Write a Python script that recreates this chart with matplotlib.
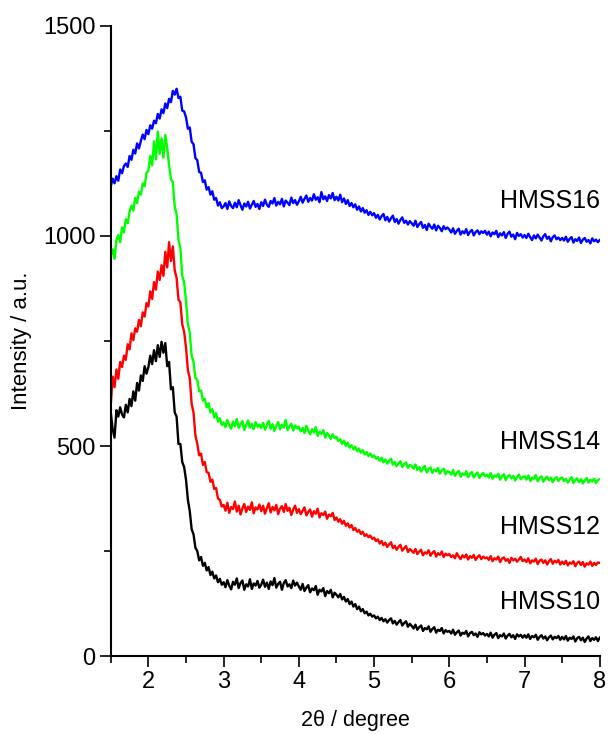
import numpy as np
import matplotlib
matplotlib.use("Agg")
import matplotlib.pyplot as plt
from matplotlib.ticker import MultipleLocator

plt.rcParams['font.family'] = ['Liberation Sans', 'DejaVu Sans']

# 2theta scan, 1.5 - 8 degree, step 0.025
two_theta = np.round(np.arange(261) * 0.025 + 1.5, 3)

hmss16 = [1118, 1136, 1125, 1142, 1131, 1158, 1149, 1166, 1172, 1164, 1190, 1181, 1205, 1196, 1220, 1208, 1226, 1241, 1230, 1252,
          1242, 1263, 1255, 1274, 1268, 1290, 1279, 1301, 1292, 1315, 1304, 1326, 1318, 1345, 1336, 1350, 1328, 1331, 1298, 1296,
          1282, 1255, 1258, 1224, 1218, 1185, 1180, 1152, 1150, 1128, 1132, 1110, 1116, 1098, 1106, 1086, 1090, 1072, 1080, 1066,
          1070, 1078, 1064, 1082, 1071, 1066, 1079, 1068, 1085, 1073, 1062, 1077, 1070, 1081, 1065, 1074, 1083, 1069, 1076, 1064,
          1080, 1071, 1086, 1074, 1069, 1083, 1077, 1090, 1072, 1081, 1075, 1088, 1070, 1084, 1079, 1073, 1091, 1078, 1085, 1074,
          1082, 1093, 1079, 1088, 1096, 1081, 1090, 1084, 1099, 1086, 1092, 1080, 1104, 1087, 1094, 1083, 1097, 1089, 1102, 1085,
          1093, 1084, 1098, 1080, 1089, 1076, 1085, 1071, 1078, 1068, 1075, 1062, 1070, 1058, 1066, 1055, 1061, 1050, 1057, 1049,
          1054, 1043, 1050, 1039, 1047, 1052, 1037, 1045, 1034, 1042, 1048, 1033, 1040, 1029, 1038, 1044, 1031, 1036, 1027, 1035,
          1030, 1024, 1036, 1021, 1028, 1033, 1019, 1026, 1014, 1029, 1022, 1017, 1027, 1013, 1024, 1019, 1011, 1023, 1016, 1020,
          1015, 1008, 1018, 1005, 1012, 1017, 1003, 1011, 1006, 1016, 1002, 1010, 1014, 1001, 1009, 1013, 1004, 1011, 1007, 1012,
          1003, 1010, 999, 1008, 1004, 1012, 997, 1006, 1001, 1009, 995, 1005, 1010, 998, 1003, 992, 1007, 1000, 1004, 996,
          1002, 995, 1005, 997, 990, 1001, 994, 1003, 996, 989, 999, 1004, 993, 998, 987, 997, 1001, 992, 996, 990,
          995, 989, 998, 986, 993, 997, 984, 992, 988, 996, 983, 991, 995, 986, 990, 982, 994, 987, 991, 985,
          990]

hmss14 = [952, 968, 945, 990, 1002, 985, 1020, 1008, 1040, 1030, 1058, 1072, 1060, 1090, 1078, 1105, 1098, 1125, 1118, 1150,
          1155, 1190, 1168, 1225, 1182, 1248, 1195, 1232, 1186, 1240, 1210, 1168, 1135, 1128, 1070, 1052, 990, 972, 905, 890,
          845, 790, 770, 715, 700, 662, 658, 630, 632, 608, 612, 592, 602, 580, 588, 568, 578, 558, 566, 550,
          556, 545, 562, 549, 541, 558, 547, 564, 543, 552, 559, 538, 550, 561, 544, 553, 540, 557, 546, 551,
          543, 555, 539, 549, 560, 541, 552, 536, 548, 557, 540, 550, 544, 562, 538, 547, 553, 537, 549, 542,
          546, 535, 543, 531, 548, 537, 528, 540, 532, 545, 524, 534, 529, 538, 520, 531, 525, 517, 528, 519,
          522, 512, 516, 505, 513, 500, 508, 496, 502, 492, 498, 488, 494, 484, 490, 480, 486, 476, 482, 474,
          478, 470, 474, 465, 472, 461, 468, 458, 465, 470, 456, 462, 452, 459, 464, 450, 457, 461, 448, 455,
          452, 446, 456, 443, 450, 439, 447, 453, 437, 445, 449, 436, 444, 440, 448, 434, 442, 446, 433, 440,
          438, 432, 443, 429, 437, 441, 427, 435, 431, 440, 426, 434, 438, 425, 433, 437, 424, 431, 436, 428,
          432, 425, 436, 422, 430, 427, 434, 420, 428, 433, 419, 427, 431, 423, 429, 418, 426, 432, 421, 426,
          428, 420, 430, 417, 425, 422, 431, 416, 424, 428, 415, 423, 427, 419, 425, 414, 422, 426, 417, 423,
          425, 417, 422, 413, 420, 426, 412, 419, 423, 414, 421, 411, 418, 424, 413, 420, 416, 422, 412, 419,
          421]

hmss12 = [598, 665, 640, 682, 660, 700, 688, 715, 705, 742, 730, 768, 752, 780, 772, 800, 785, 818, 808, 840,
          832, 868, 850, 890, 872, 915, 895, 930, 905, 962, 925, 985, 940, 975, 918, 900, 848, 842, 790, 772,
          735, 680, 662, 600, 580, 525, 505, 478, 482, 455, 462, 438, 436, 415, 420, 398, 400, 375, 372, 356,
          360, 346, 365, 341, 355, 350, 368, 344, 358, 337, 352, 362, 343, 356, 348, 366, 340, 354, 349, 361,
          345, 358, 339, 352, 364, 342, 355, 347, 360, 338, 351, 357, 343, 362, 346, 353, 336, 349, 358, 341,
          350, 338, 346, 354, 335, 343, 349, 332, 345, 339, 351, 330, 340, 336, 344, 327, 337, 333, 341, 324,
          330, 320, 326, 315, 322, 310, 316, 306, 312, 300, 305, 296, 300, 291, 296, 286, 290, 283, 287, 279,
          282, 274, 278, 268, 274, 264, 270, 260, 266, 271, 257, 263, 253, 260, 265, 251, 257, 262, 248, 255,
          251, 246, 255, 243, 249, 253, 240, 247, 244, 252, 239, 246, 250, 237, 245, 241, 249, 236, 244, 240,
          243, 236, 240, 233, 245, 237, 231, 240, 235, 242, 230, 238, 234, 241, 229, 236, 240, 231, 237, 233,
          235, 229, 238, 226, 233, 230, 237, 224, 232, 235, 227, 231, 222, 234, 228, 232, 225, 230, 236, 226,
          230, 224, 233, 221, 228, 225, 232, 219, 227, 230, 222, 228, 218, 226, 231, 220, 227, 223, 229, 218,
          225, 219, 227, 216, 223, 220, 226, 214, 222, 225, 217, 224, 213, 221, 218, 225, 215, 222, 217, 223,
          222]

hmss10 = [580, 540, 520, 585, 570, 592, 575, 568, 598, 580, 612, 595, 630, 608, 650, 632, 668, 655, 690, 672,
          688, 715, 695, 728, 702, 740, 712, 748, 722, 745, 690, 700, 635, 640, 580, 570, 505, 505, 462, 450,
          420, 372, 345, 302, 290, 258, 250, 228, 236, 215, 222, 204, 212, 193, 201, 185, 192, 176, 184, 170,
          176, 164, 181, 168, 159, 177, 170, 185, 162, 174, 180, 158, 171, 166, 183, 160, 173, 168, 179, 163,
          170, 182, 165, 175, 160, 178, 169, 186, 163, 172, 177, 158, 174, 181, 166, 171, 162, 180, 168, 175,
          166, 158, 172, 155, 163, 169, 152, 161, 157, 167, 146, 158, 154, 162, 143, 155, 150, 158, 140, 151,
          146, 140, 148, 135, 141, 130, 136, 124, 130, 118, 124, 112, 118, 107, 112, 102, 106, 97, 101, 94,
          97, 90, 94, 86, 91, 83, 88, 80, 86, 90, 78, 84, 75, 81, 86, 73, 79, 83, 70, 77,
          72, 66, 75, 63, 69, 73, 60, 67, 64, 71, 58, 65, 69, 56, 63, 60, 67, 54, 62, 58,
          60, 54, 63, 51, 57, 61, 49, 56, 53, 60, 47, 55, 58, 50, 54, 46, 57, 52, 55, 49,
          53, 47, 56, 44, 51, 55, 43, 50, 47, 54, 42, 49, 53, 45, 50, 41, 52, 47, 51, 44,
          50, 44, 52, 41, 48, 45, 51, 39, 46, 50, 42, 47, 38, 45, 49, 40, 46, 43, 48, 39,
          46, 40, 48, 37, 44, 41, 47, 35, 43, 46, 38, 44, 34, 42, 47, 36, 43, 39, 45, 36,
          44]

names = ["HMSS16", "HMSS14", "HMSS12", "HMSS10"]
label_y = [1083, 510, 308, 130]
colors = ["#0000ff", "#00ff00", "#ff0000", "#000000"]

fig = plt.figure(figsize=(6.12, 7.34), dpi=100)
ax = fig.add_axes([0.181, 0.106, 0.799, 0.859])

for series, c in zip([hmss16, hmss14, hmss12, hmss10], colors):
    ax.plot(two_theta, series, color=c, lw=1.7)

for name, yy in zip(names, label_y):
    ax.text(8.0, yy, name, ha='right', va='center', fontsize=18)

ax.set_xlim(1.5, 8)
ax.set_ylim(0, 1500)
ax.xaxis.set_major_locator(MultipleLocator(1))
ax.xaxis.set_minor_locator(MultipleLocator(0.5))
ax.yaxis.set_major_locator(MultipleLocator(500))
ax.yaxis.set_minor_locator(MultipleLocator(250))
ax.tick_params(which='major', direction='out', length=8, width=1.2, labelsize=17, pad=3)
ax.tick_params(which='minor', direction='out', length=5, width=1.2)

ax.spines['top'].set_visible(False)
ax.spines['right'].set_visible(False)
ax.spines['left'].set_linewidth(1.5)
ax.spines['bottom'].set_linewidth(1.5)

ax.set_xlabel("2θ / degree", fontsize=15.5, labelpad=12)
ax.set_ylabel("Intensity / a.u.", fontsize=16, labelpad=8)

fig.savefig("out.png", dpi=100)
